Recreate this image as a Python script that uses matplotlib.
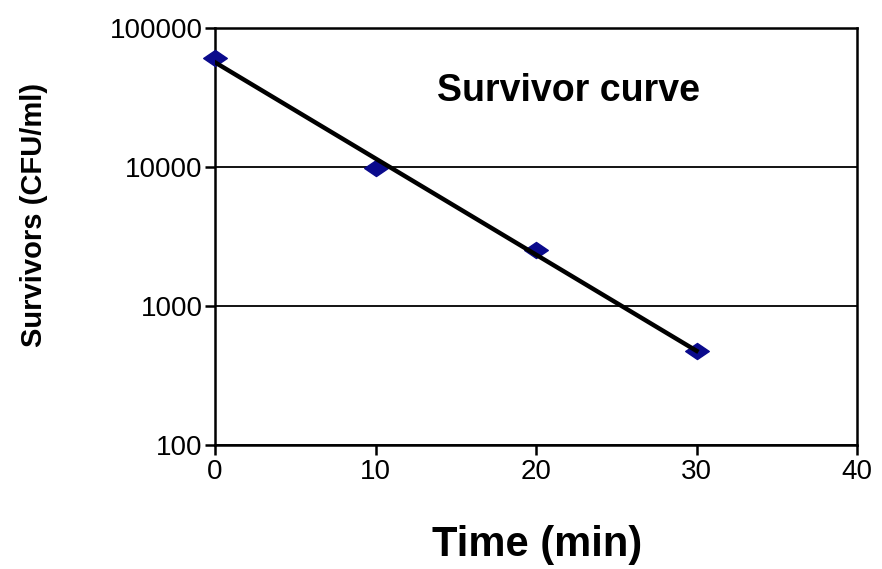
import numpy as np
import matplotlib
matplotlib.use("Agg")
import matplotlib.pyplot as plt
from matplotlib.path import Path
from matplotlib.ticker import FixedLocator, FixedFormatter, NullLocator

time_min = [0, 10, 20, 30]
survivors = [61000, 9900, 2530, 475]
x_ticks = [0, 10, 20, 30, 40]
y_ticks = [100, 1000, 10000, 100000]
y_tick_labels = ["100", "1000", "10000", "100000"]

plt.rcParams['font.family'] = ['Liberation Sans', 'DejaVu Sans']

fig = plt.figure(figsize=(8.82, 5.69), dpi=100)
ax = fig.add_axes([215/882, 1-445/569, 642/882, 417/569])
ax.set_yscale('log')
ax.set_xlim(0, 40)
ax.set_ylim(100, 100000)

# exponential trend line fitted to the data
coef = np.polyfit(time_min, np.log10(survivors), 1)
xf = np.linspace(time_min[0], time_min[-1], 100)
yf = 10 ** np.polyval(coef, xf)

diamond = Path([(-1, 0), (0, 0.68), (1, 0), (0, -0.68), (-1, 0)],
               [Path.MOVETO, Path.LINETO, Path.LINETO, Path.LINETO, Path.CLOSEPOLY])
ax.plot(time_min, survivors, linestyle='none', marker=diamond, markersize=17,
        color='#0a0a8c', zorder=3, clip_on=False)
ax.plot(xf, yf, color='black', linewidth=3.2, zorder=4)

ax.yaxis.set_major_locator(FixedLocator(y_ticks))
ax.yaxis.set_major_formatter(FixedFormatter(y_tick_labels))
ax.yaxis.set_minor_locator(NullLocator())
ax.set_xticks(x_ticks)
ax.grid(True, axis='y', color='black', linewidth=1.3)
ax.set_axisbelow(True)

for s in ax.spines.values():
    s.set_linewidth(1.8)
    s.set_color('black')

ax.tick_params(axis='both', which='major', direction='out', length=7, width=1.8,
               labelsize=20, colors='black')
ax.tick_params(axis='y', pad=2)
ax.tick_params(axis='x', pad=3)

ax.set_xlabel('Time (min)', fontsize=30, fontweight='bold')
ax.xaxis.label.set_va('center')
ax.xaxis.set_label_coords(0.5016, -0.24)

ax.set_ylabel('Survivors (CFU/ml)', fontsize=21, fontweight='bold')
ax.yaxis.label.set_va('center')
ax.yaxis.set_label_coords(-0.282, 0.552)

ax.text(0.55, 0.85, 'Survivor curve', transform=ax.transAxes, fontsize=27,
        fontweight='bold', ha='center', va='center')

fig.savefig('out.png', dpi=100)
